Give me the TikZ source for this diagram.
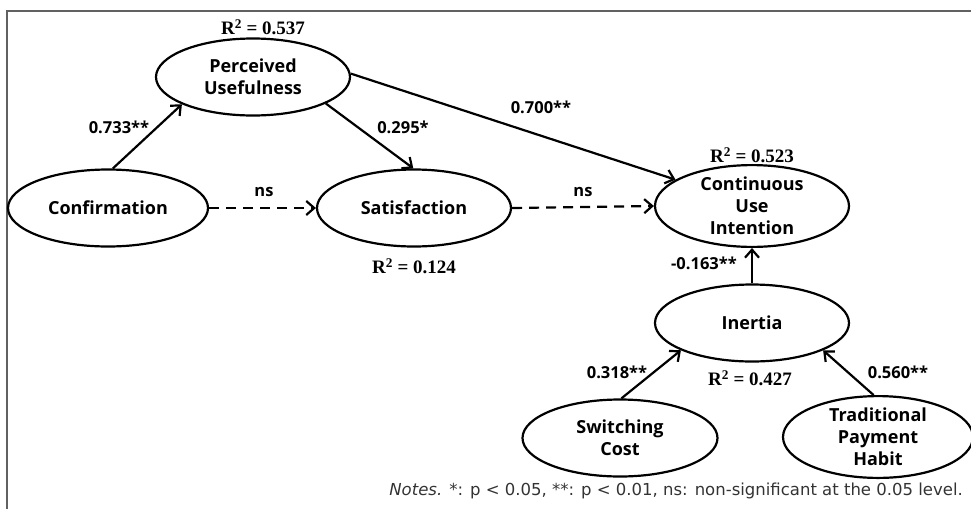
\documentclass[tikz,border=0pt]{standalone}
\usepackage{fontspec}
\setmainfont{Liberation Serif}
\setsansfont{Open Sans}
\newfontfamily\notefont{DejaVu Sans}
\usetikzlibrary{shapes.geometric,arrows.meta}
\begin{document}
\begin{tikzpicture}[x=1pt,y=-1pt,
  lat/.style={draw,ellipse,line width=2.2pt,minimum width=#1,minimum height=77pt,inner sep=0pt,
    font=\sffamily\bfseries\fontsize{18}{22}\selectfont,align=center},
  lat/.default=194pt,
  path/.style={line width=2.2pt,-{Straight Barb[length=8pt,width=14pt,line width=2.2pt]}},
  nsp/.style={path,dash pattern=on 10pt off 7pt},
  coef/.style={font=\sffamily\bfseries\fontsize{16.5}{18}\selectfont,inner sep=0pt},
  rsq/.style={font=\bfseries\fontsize{19}{20}\selectfont,inner sep=0pt}]
\useasboundingbox (0,0) rectangle (971,509);
\draw[line width=2pt,draw=black!62] (7,509) -- (7,11) -- (971,11);
\node[lat] (pu) at (253,77) {Perceived\\Usefulness};
\node[lat=200pt] (conf) at (108,208) {Confirmation};
\node[lat] (sat) at (414,208) {Satisfaction};
\node[lat] (cui) at (752,206) {Continuous\\Use\\Intention};
\node[lat] (inr) at (752,323) {Inertia};
\node[lat=195pt] (sc) at (620,438) {Switching\\Cost};
\node[lat=190pt] (tph) at (878,437) {Traditional\\Payment\\Habit};
\draw[path] (conf.83) -- (pu.-159);
\draw[path] (pu.-20) -- (sat.91);
\draw[path] (pu.2) -- (cui.161);
\draw[nsp] (conf.east) -- (sat.west);
\draw[nsp] (sat.east) -- (cui.west);
\draw[path] (inr.north) -- (cui.south);
\draw[path] (sc.88) -- (inr.-159);
\draw[path] (tph.96) -- (inr.-21);
\node[rsq] (r1) at (263,27) {R\textsuperscript{2} = 0.537};
\node[rsq] (r2) at (752,155) {R\textsuperscript{2} = 0.523};
\node[rsq] (r3) at (414,266) {R\textsuperscript{2} = 0.124};
\node[rsq] (r4) at (750,378) {R\textsuperscript{2} = 0.427};
\node[coef] (c1) at (119,127) {0.733**};
\node[coef] (c2) at (403,127) {0.295*};
\node[coef] (c3) at (541,107) {0.700**};
\node[coef] (c4) at (264,192) {ns};
\node[coef] (c5) at (583,192) {ns};
\node[coef] (c6) at (704,263) {-0.163**};
\node[coef] (c7) at (617,372) {0.318**};
\node[coef] (c8) at (898,372) {0.560**};
\node[font=\notefont\fontsize{16.5}{18}\selectfont,text=black!80,anchor=east,inner sep=0pt] (notes) at (963,491)
  {\textit{Notes.} *: p {<} 0.05, **: p {<} 0.01, ns: non-significant at the 0.05 level.};
\end{tikzpicture}
\end{document}
